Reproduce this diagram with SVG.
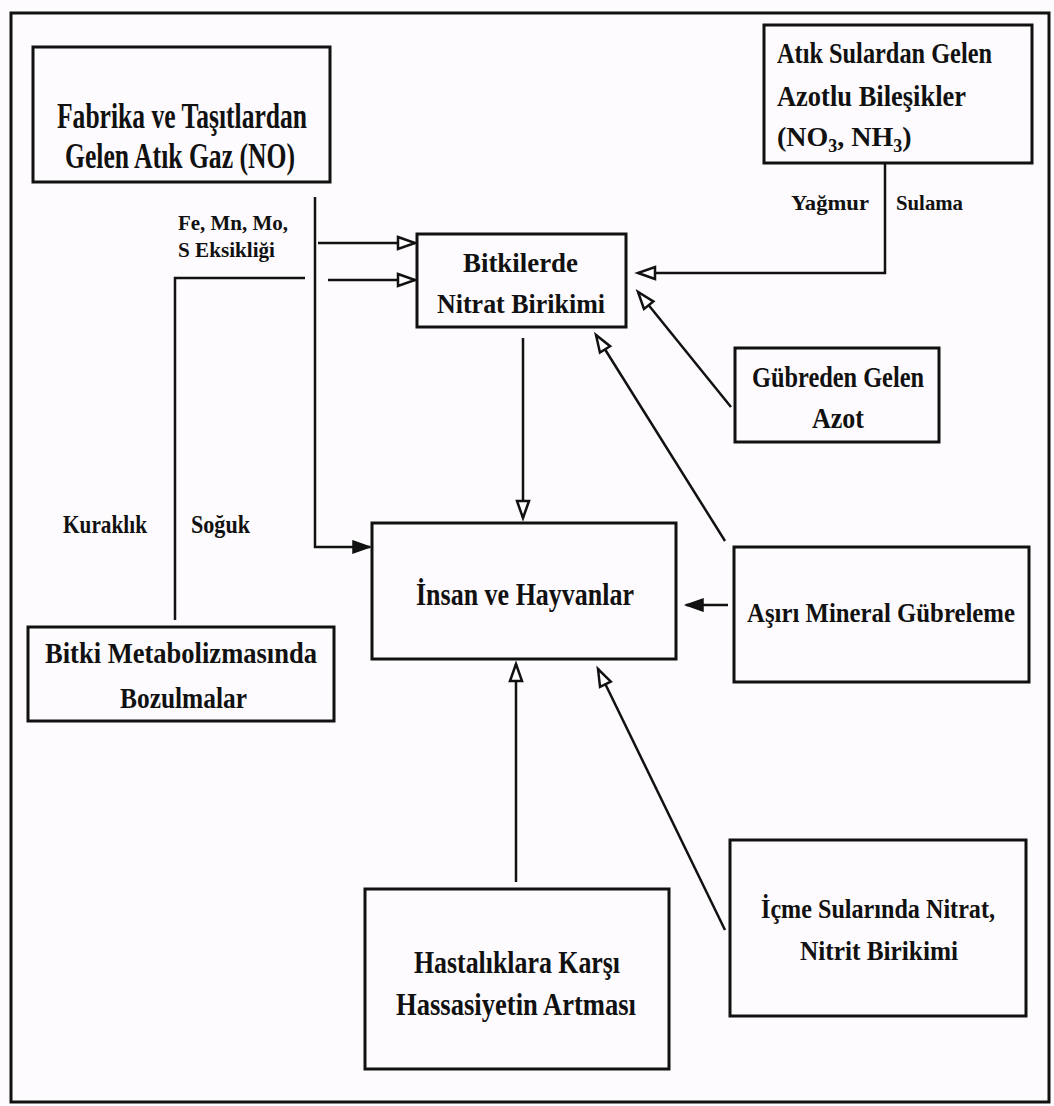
<svg xmlns="http://www.w3.org/2000/svg" width="1054" height="1106" viewBox="0 0 1054 1106">
<style>
.bg{fill:#fdfbfd}
.box{fill:none;stroke:#111;stroke-width:3}
.ln{fill:none;stroke:#111;stroke-width:2.5}
text{font-family:"Liberation Serif","Times New Roman",serif;font-weight:bold;fill:#111}
</style>
<defs>
<marker id="open" markerUnits="userSpaceOnUse" markerWidth="22" markerHeight="16" refX="18" refY="7" orient="auto" overflow="visible">
<path d="M1,1 L18,7 L1,13 z" fill="#fff" stroke="#111" stroke-width="2.5"/>
</marker>
<marker id="fill" markerUnits="userSpaceOnUse" markerWidth="22" markerHeight="16" refX="18" refY="7" orient="auto" overflow="visible">
<path d="M1,1 L18,7 L1,13 z" fill="#111" stroke="#111" stroke-width="1.5"/>
</marker>
</defs>
<rect class="bg" x="0" y="0" width="1054" height="1106"/>
<rect x="11" y="13" width="1038" height="1089" fill="none" stroke="#111" stroke-width="3"/>

<g id="connectors">
<path class="ln" d="M315,197 V547 H370" marker-end="url(#fill)"/>
<path class="ln" d="M318,243 H415" marker-end="url(#open)"/>
<path class="ln" d="M175,620 V278 H305"/>
<path class="ln" d="M328,280 H415" marker-end="url(#open)"/>
<path class="ln" d="M885,163 V273 H638" marker-end="url(#open)"/>
<path class="ln" d="M731,407 L638,292" marker-end="url(#open)"/>
<path class="ln" d="M725,541 L596,335" marker-end="url(#open)"/>
<path class="ln" d="M523,338 V518" marker-end="url(#open)"/>
<path class="ln" d="M728,605 H686" marker-end="url(#fill)"/>
<path class="ln" d="M516,882 V664" marker-end="url(#open)"/>
<path class="ln" d="M725,930 L598,669" marker-end="url(#open)"/>
</g>

<g id="labels">
<text x="178" y="230" font-size="22" textLength="110" lengthAdjust="spacingAndGlyphs">Fe, Mn, Mo,</text>
<text x="178" y="257" font-size="22" textLength="97" lengthAdjust="spacingAndGlyphs">S Eksikliği</text>
<text x="791" y="210" font-size="21" textLength="78" lengthAdjust="spacingAndGlyphs">Yağmur</text>
<text x="896" y="210" font-size="21" textLength="67" lengthAdjust="spacingAndGlyphs">Sulama</text>
<text x="63" y="533" font-size="26" textLength="84" lengthAdjust="spacingAndGlyphs">Kuraklık</text>
<text x="191" y="533" font-size="26" textLength="59" lengthAdjust="spacingAndGlyphs">Soğuk</text>
</g>

<g id="node-fabrika">
<rect class="box" x="33" y="47" width="297" height="135"/>
<text x="57" y="128" font-size="35" textLength="250" lengthAdjust="spacingAndGlyphs">Fabrika ve Taşıtlardan</text>
<text x="65" y="168" font-size="35" textLength="230" lengthAdjust="spacingAndGlyphs">Gelen Atık Gaz (NO)</text>
</g>

<g id="node-atik-sular">
<rect class="box" x="764" y="25" width="268" height="138"/>
<text x="777" y="63" font-size="29" textLength="215" lengthAdjust="spacingAndGlyphs">Atık Sulardan Gelen</text>
<text x="777" y="106" font-size="29" textLength="189" lengthAdjust="spacingAndGlyphs">Azotlu Bileşikler</text>
<text x="777" y="146" font-size="28">(NO<tspan font-size="18" dy="6">3</tspan><tspan dy="-6">, NH</tspan><tspan font-size="18" dy="6">3</tspan><tspan dy="-6">)</tspan></text>
</g>

<g id="node-bitkilerde">
<rect class="box" x="417" y="234" width="209" height="93"/>
<text x="463" y="272" font-size="28" textLength="115" lengthAdjust="spacingAndGlyphs">Bitkilerde</text>
<text x="437" y="313" font-size="28" textLength="168" lengthAdjust="spacingAndGlyphs">Nitrat Birikimi</text>
</g>

<g id="node-gubreden">
<rect class="box" x="735" y="348" width="204" height="94"/>
<text x="752" y="387" font-size="29" textLength="172" lengthAdjust="spacingAndGlyphs">Gübreden Gelen</text>
<text x="812" y="428" font-size="29" textLength="52" lengthAdjust="spacingAndGlyphs">Azot</text>
</g>

<g id="node-insan">
<rect class="box" x="372" y="523" width="304" height="136"/>
<text x="416" y="605" font-size="32" textLength="218" lengthAdjust="spacingAndGlyphs">İnsan ve Hayvanlar</text>
</g>

<g id="node-asiri">
<rect class="box" x="734" y="547" width="295" height="135"/>
<text x="747" y="622" font-size="28" textLength="268" lengthAdjust="spacingAndGlyphs">Aşırı Mineral Gübreleme</text>
</g>

<g id="node-bitki-metabolizma">
<rect class="box" x="28" y="627" width="306" height="94"/>
<text x="45" y="663" font-size="29" textLength="272" lengthAdjust="spacingAndGlyphs">Bitki Metabolizmasında</text>
<text x="120" y="708" font-size="29" textLength="127" lengthAdjust="spacingAndGlyphs">Bozulmalar</text>
</g>

<g id="node-hastaliklara">
<rect class="box" x="365" y="889" width="304" height="180"/>
<text x="414" y="973" font-size="32" textLength="206" lengthAdjust="spacingAndGlyphs">Hastalıklara Karşı</text>
<text x="396" y="1015" font-size="32" textLength="240" lengthAdjust="spacingAndGlyphs">Hassasiyetin Artması</text>
</g>

<g id="node-icme">
<rect class="box" x="730" y="840" width="296" height="176"/>
<text x="761" y="918" font-size="27" textLength="234" lengthAdjust="spacingAndGlyphs">İçme Sularında Nitrat,</text>
<text x="800" y="960" font-size="28" textLength="158" lengthAdjust="spacingAndGlyphs">Nitrit Birikimi</text>
</g>
</svg>
